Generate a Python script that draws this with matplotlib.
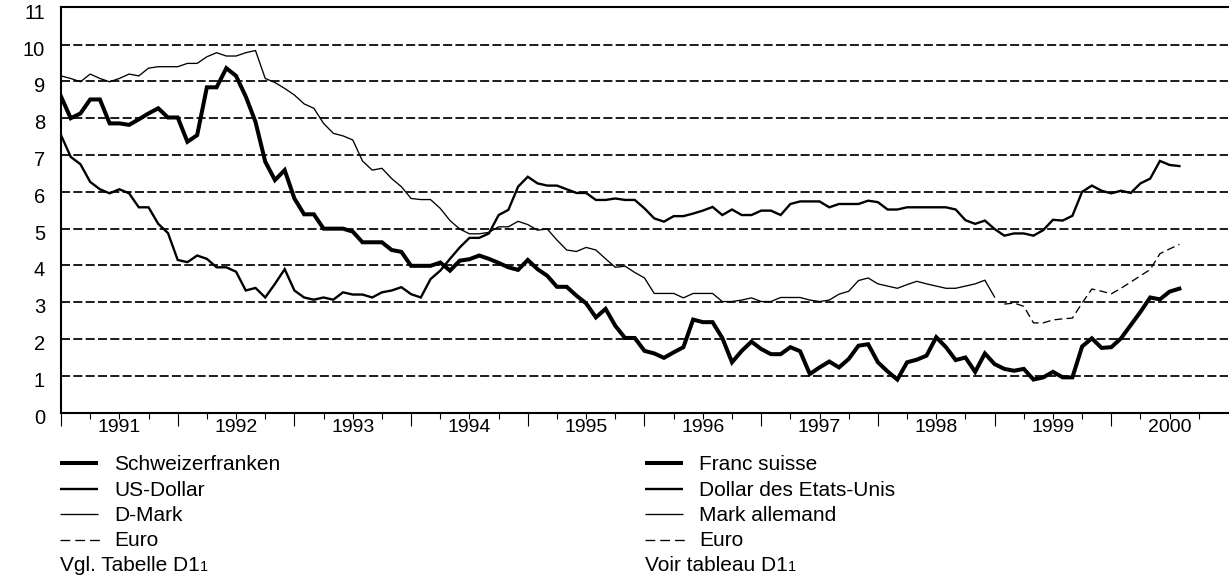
import numpy as np
import matplotlib
matplotlib.use("Agg")
import matplotlib.pyplot as plt
import matplotlib.transforms as mtransforms
from matplotlib.lines import Line2D
from matplotlib.ticker import FixedLocator, FixedFormatter, NullFormatter

plt.rcParams['font.family'] = ['Liberation Sans', 'DejaVu Sans']

# ---------------- data (monthly, starting January 1991) ----------------
first_year, first_month = 1991, 1
eur_first_year, eur_first_month = 1999, 2

chf = [8.59, 8.00, 8.13, 8.51, 8.51, 7.86, 7.86, 7.82, 7.97, 8.13, 8.27, 8.02,
       8.02, 7.36, 7.54, 8.84, 8.84, 9.36, 9.15, 8.59, 7.90, 6.82, 6.32, 6.59,
       5.82, 5.39, 5.39, 5.00, 5.00, 5.00, 4.92, 4.63, 4.63, 4.63, 4.42, 4.37,
       3.99, 3.99, 3.99, 4.08, 3.86, 4.13, 4.17, 4.27, 4.18, 4.07, 3.95, 3.88,
       4.15, 3.90, 3.72, 3.42, 3.42, 3.18, 2.97, 2.59, 2.82, 2.36, 2.03, 2.03,
       1.68, 1.61, 1.49, 1.64, 1.78, 2.53, 2.46, 2.46, 2.03, 1.37, 1.68, 1.93,
       1.73, 1.59, 1.59, 1.78, 1.67, 1.05, 1.23, 1.39, 1.23, 1.46, 1.82, 1.86,
       1.37, 1.12, 0.90, 1.37, 1.44, 1.55, 2.05, 1.78, 1.43, 1.50, 1.11, 1.61,
       1.32, 1.19, 1.14, 1.19, 0.90, 0.96, 1.11, 0.96, 0.96, 1.80, 2.02, 1.76,
       1.78, 2.02, 2.38, 2.74, 3.13, 3.08, 3.29, 3.37]

usd = [7.54, 6.95, 6.75, 6.27, 6.07, 5.96, 6.07, 5.96, 5.58, 5.58, 5.13, 4.88,
       4.15, 4.09, 4.27, 4.18, 3.95, 3.95, 3.83, 3.32, 3.39, 3.13, 3.50, 3.90,
       3.32, 3.13, 3.07, 3.13, 3.07, 3.27, 3.21, 3.21, 3.13, 3.27, 3.32, 3.41,
       3.22, 3.13, 3.63, 3.86, 4.18, 4.49, 4.75, 4.75, 4.87, 5.37, 5.51, 6.14,
       6.41, 6.23, 6.17, 6.17, 6.07, 5.97, 5.97, 5.78, 5.78, 5.82, 5.78, 5.78,
       5.55, 5.28, 5.19, 5.34, 5.34, 5.41, 5.49, 5.59, 5.37, 5.52, 5.37, 5.37,
       5.49, 5.49, 5.37, 5.67, 5.74, 5.74, 5.74, 5.58, 5.67, 5.67, 5.67, 5.76,
       5.72, 5.52, 5.52, 5.58, 5.58, 5.58, 5.58, 5.58, 5.52, 5.23, 5.13, 5.22,
       4.99, 4.81, 4.87, 4.87, 4.81, 4.96, 5.24, 5.22, 5.35, 6.00, 6.17, 6.03,
       5.96, 6.03, 5.97, 6.23, 6.36, 6.84, 6.73, 6.70]

dem = [9.15, 9.08, 8.99, 9.20, 9.08, 8.99, 9.08, 9.20, 9.15, 9.36, 9.40, 9.40,
       9.40, 9.49, 9.49, 9.67, 9.78, 9.69, 9.69, 9.78, 9.84, 9.08, 8.97, 8.81,
       8.63, 8.39, 8.27, 7.86, 7.59, 7.52, 7.41, 6.84, 6.59, 6.64, 6.36, 6.14,
       5.82, 5.79, 5.79, 5.55, 5.22, 4.99, 4.86, 4.86, 4.90, 5.05, 5.05, 5.20,
       5.11, 4.96, 4.99, 4.69, 4.42, 4.38, 4.49, 4.42, 4.18, 3.95, 3.98, 3.81,
       3.66, 3.24, 3.24, 3.24, 3.12, 3.24, 3.24, 3.24, 3.02, 3.02, 3.06, 3.12,
       3.02, 3.02, 3.13, 3.13, 3.13, 3.06, 3.02, 3.06, 3.22, 3.30, 3.59, 3.66,
       3.50, 3.44, 3.38, 3.48, 3.57, 3.50, 3.44, 3.38, 3.38, 3.44, 3.50, 3.60,
       3.14]

eur = [2.95, 2.98, 2.89, 2.44, 2.44, 2.52, 2.55, 2.57, 2.98, 3.36, 3.30, 3.23,
       3.38, 3.55, 3.72, 3.89, 4.32, 4.45, 4.57]

years = list(range(1991, 2001))
year_labels = [str(y) for y in years]
y_ticks = list(range(0, 12))

labels_de = ["Schweizerfranken", "US-Dollar", "D-Mark", "Euro"]
labels_fr = ["Franc suisse", "Dollar des Etats-Unis", "Mark allemand", "Euro"]
note_de = "Vgl. Tabelle D1"
note_fr = "Voir tableau D1"
note_index = "1"


def month_axis(y0, m0, n):
    return (y0 + (m0 - 1) / 12.0) + np.arange(n) / 12.0


# ---------------- figure ----------------
W, H = 1229, 575
fig = plt.figure(figsize=(W / 100, H / 100), dpi=100)
ax_left, ax_right, ax_top, ax_bot = 61, 1228, 6.7, 412.7
ax = fig.add_axes([ax_left / W, 1 - ax_bot / H, (ax_right - ax_left) / W, (ax_bot - ax_top) / H])

styles = {
    "chf": dict(color="black", lw=2.9, solid_joinstyle="miter"),
    "usd": dict(color="black", lw=1.7, solid_joinstyle="miter"),
    "dem": dict(color="black", lw=0.95),
    "eur": dict(color="black", lw=0.95, linestyle=(0, (6.0, 3.2))),
}

# gridlines
for v in range(1, 11):
    ax.axhline(v, color="black", lw=1.25, linestyle=(0, (5.2, 1.9)), zorder=1)

ax.plot(month_axis(first_year, first_month, len(dem)), dem, zorder=3, **styles["dem"])
ax.plot(month_axis(eur_first_year, eur_first_month, len(eur)), eur, zorder=3, **styles["eur"])
ax.plot(month_axis(first_year, first_month, len(usd)), usd, zorder=4, **styles["usd"])
ax.plot(month_axis(first_year, first_month, len(chf)), chf, zorder=5, **styles["chf"])

ax.set_xlim(1991, 2001)
ax.set_ylim(0, 11.03)

for s in ["left", "bottom", "top"]:
    ax.spines[s].set_linewidth(1.5)
ax.spines["right"].set_visible(False)

ax.set_yticks(y_ticks)
ax.set_yticklabels([str(v) for v in y_ticks])
ax.tick_params(axis="y", length=0, pad=11.5, labelsize=14.5)
shift = mtransforms.ScaledTranslation(0, -3.5 / 100, fig.dpi_scale_trans)
for lab in ax.get_yticklabels():
    lab.set_transform(lab.get_transform() + shift)

ax.xaxis.set_major_locator(FixedLocator(years))
ax.xaxis.set_major_formatter(NullFormatter())
minor_pos, minor_lab = [], []
for y, lab in zip(years, year_labels):
    for q, l in [(0.25, ""), (0.5, lab), (0.75, "")]:
        minor_pos.append(y + q)
        minor_lab.append(l)
ax.xaxis.set_minor_locator(FixedLocator(minor_pos))
ax.xaxis.set_minor_formatter(FixedFormatter(minor_lab))
ax.tick_params(axis="x", which="major", direction="out", length=9.4, width=0.8)
ax.tick_params(axis="x", which="minor", direction="out", length=4.3, width=0.8,
               pad=0, labelsize=14)


# ---------------- legends (drawn in figure pixel coordinates) ----------------
def fx(x):
    return x / W


def fy(y):
    return 1 - y / H


handle_rows = [463, 489, 514, 539.5]
text_rows = [470.5, 496, 521, 546.5]
note_row = 570.7
keys = ["chf", "usd", "dem", "eur"]


def draw_legend(x_handle0, x_handle1, x_text, labels, note):
    for key, hy, ty, lab in zip(keys, handle_rows, text_rows, labels):
        st = dict(styles[key])
        x1 = x_handle1
        if key == "eur":
            x1 = x_handle0 + 43
            st["linestyle"] = (0, (7.4, 3.8))
        st.pop("solid_joinstyle", None)
        fig.add_artist(Line2D([fx(x_handle0), fx(x1)], [fy(hy), fy(hy)],
                              transform=fig.transFigure, solid_capstyle="butt",
                              dash_capstyle="butt", **st))
        fig.text(fx(x_text), fy(ty), lab, fontsize=15, va="baseline", ha="left")
    t = fig.text(fx(x_handle0), fy(note_row), note, fontsize=15, va="baseline", ha="left")
    return t


t1 = draw_legend(60, 98, 114, labels_de, note_de)
t2 = draw_legend(645, 683, 699, labels_fr, note_fr)

fig.canvas.draw()
r = fig.canvas.get_renderer()
for t in (t1, t2):
    bb = t.get_window_extent(renderer=r)
    fig.text(bb.x1 / W + 0.5 / W, fy(note_row), note_index, fontsize=10.5,
             va="baseline", ha="left")

fig.savefig("out.png", dpi=100)
